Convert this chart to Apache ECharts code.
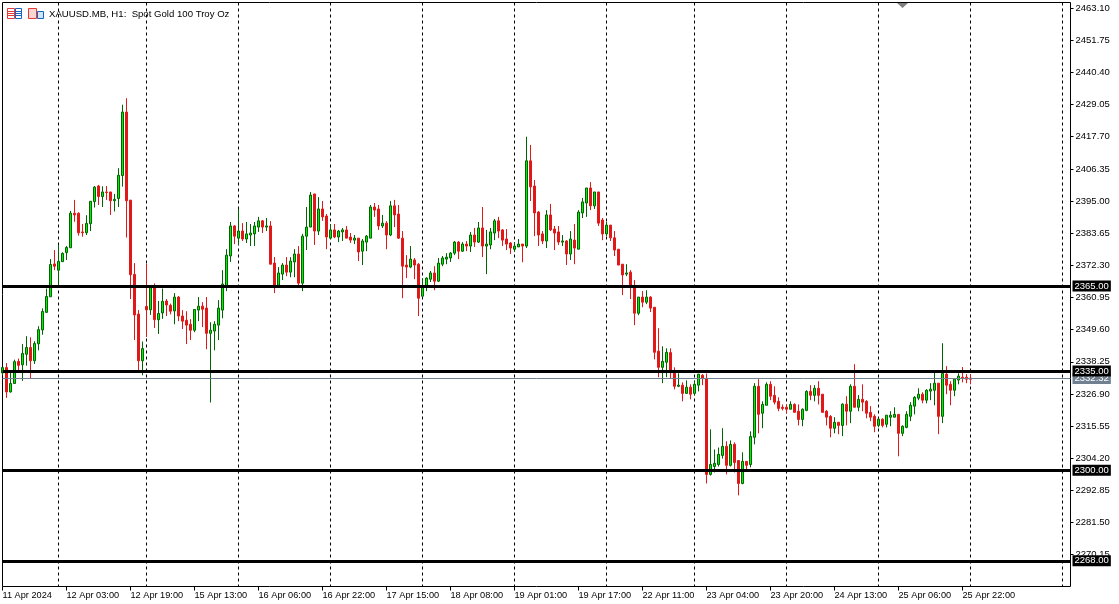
<!DOCTYPE html>
<html>
<head>
<meta charset="utf-8">
<style>html,body{margin:0;padding:0;background:#fff}#c{width:1119px;height:604px}</style>
<script src="https://cdn.jsdelivr.net/npm/echarts@6/dist/echarts.min.js"></script>
</head>
<body>
<div id="c"></div>
<script>
const opens = [
2334.3,2336.2,2327.6,2330.6,2338.4,2337.2,2340.9,2343.3,2338.6,2344.6,
2349.5,2355.7,2361.2,2372.8,2370.6,2373.6,2376.8,2378.5,2390.7,2390.7,
2384.1,2383.8,2387.0,2394.8,2400.3,2396.6,2398.2,2398.2,2395.1,2395.9,
2404.0,2426.4,2395.3,2369.1,2355.1,2338.6,2357.8,2356.6,2364.5,2353.1,
2355.5,2359.7,2358.2,2356.2,2361.1,2354.4,2352.9,2351.5,2349.4,2356.5,
2357.9,2357.2,2348.3,2349.1,2351.2,2356.5,2365.0,2375.6,2386.2,2381.9,
2384.4,2381.6,2383.0,2383.4,2385.8,2388.0,2385.8,2386.2,2373.1,2365.3,
2369.2,2372.4,2369.9,2373.5,2376.3,2366.0,2382.6,2385.8,2397.5,2384.4,
2392.2,2389.7,2381.9,2384.8,2382.3,2384.1,2384.8,2382.3,2381.2,2381.9,
2377.3,2380.5,2381.9,2392.9,2392.2,2386.2,2387.2,2383.0,2393.3,2390.4,
2381.9,2372.4,2371.7,2374.2,2372.7,2361.4,2364.9,2367.4,2369.6,2366.7,
2372.7,2374.5,2374.9,2376.6,2380.5,2377.3,2379.8,2379.1,2383.0,2380.5,
2385.5,2379.1,2379.5,2383.7,2388.0,2384.8,2381.6,2380.2,2378.0,2378.8,
2379.8,2379.1,2409.2,2400.3,2391.1,2383.4,2380.9,2390.1,2385.1,2384.1,
2380.5,2380.9,2376.3,2381.2,2378.0,2390.8,2394.3,2399.6,2393.3,2398.2,
2388.3,2383.4,2386.5,2382.0,2378.0,2372.7,2369.2,2369.9,2365.0,2355.4,
2361.1,2359.3,2361.1,2357.5,2342.0,2336.3,2338.1,2341.5,2334.2,2329.6,
2330.0,2327.1,2329.3,2327.1,2330.0,2333.5,2332.4,2298.5,2301.3,2302.0,
2305.2,2308.4,2301.7,2309.1,2303.4,2295.3,2303.1,2302.0,2311.6,2329.6,
2320.1,2322.9,2330.3,2326.4,2324.3,2322.2,2322.2,2321.5,2323.2,2320.8,
2317.9,2321.1,2327.8,2326.4,2328.9,2326.8,2320.8,2319.0,2314.8,2316.9,
2315.8,2323.3,2320.8,2329.6,2322.2,2325.0,2324.3,2320.4,2319.0,2315.8,
2318.0,2316.2,2318.7,2318.7,2319.7,2313.0,2315.1,2319.0,2322.6,2325.4,
2326.8,2324.7,2327.9,2328.2,2330.7,2319.0,2333.9,2330.3,2328.2,2331.8,
2332.8,2332.8,2332.5];
const closes = [
2336.2,2327.6,2330.6,2338.3,2337.0,2341.2,2343.3,2338.6,2344.7,2349.6,
2356.0,2361.3,2372.6,2372.0,2373.7,2376.5,2378.6,2390.7,2390.1,2383.8,
2383.8,2387.1,2394.9,2399.9,2396.6,2398.2,2398.0,2395.1,2395.6,2404.1,
2426.4,2395.1,2369.0,2354.8,2338.6,2342.9,2356.6,2364.5,2353.1,2355.3,
2359.6,2358.3,2356.1,2361.1,2354.4,2352.6,2351.2,2349.4,2356.7,2357.9,
2356.8,2348.3,2349.4,2351.5,2357.2,2365.7,2375.9,2386.2,2382.6,2384.4,
2381.6,2383.4,2383.7,2386.2,2388.0,2385.8,2386.2,2372.7,2365.3,2369.6,
2372.4,2369.9,2373.8,2376.3,2366.0,2382.6,2385.8,2397.1,2384.4,2392.2,
2389.4,2382.3,2384.8,2382.3,2384.4,2384.8,2381.9,2381.2,2381.9,2377.0,
2380.9,2382.6,2392.9,2391.8,2386.2,2387.2,2383.0,2393.3,2390.1,2381.9,
2372.0,2371.7,2374.5,2372.4,2360.7,2364.6,2367.8,2369.6,2366.7,2373.1,
2374.9,2375.2,2376.6,2380.5,2377.3,2379.8,2379.1,2383.0,2380.5,2385.5,
2379.1,2379.8,2384.1,2388.0,2384.4,2381.2,2379.8,2378.4,2379.1,2379.8,
2379.1,2409.2,2400.0,2390.8,2383.0,2380.9,2390.1,2384.8,2383.7,2380.5,
2380.9,2376.3,2381.6,2378.4,2391.1,2394.7,2399.6,2393.3,2398.2,2387.2,
2383.4,2386.5,2382.0,2377.7,2372.4,2368.9,2369.6,2365.0,2355.4,2361.1,
2359.3,2361.1,2357.2,2341.6,2336.3,2338.4,2341.6,2335.3,2329.6,2330.0,
2327.1,2329.3,2326.8,2330.3,2333.9,2332.4,2298.5,2302.0,2302.4,2305.6,
2308.4,2301.7,2309.1,2302.7,2295.3,2303.1,2301.7,2311.9,2329.6,2319.7,
2323.2,2330.3,2326.1,2324.0,2321.8,2321.8,2321.5,2323.2,2320.4,2317.9,
2321.5,2327.8,2326.4,2328.9,2326.4,2320.4,2318.7,2314.8,2316.9,2315.8,
2323.3,2320.8,2329.6,2322.2,2325.0,2324.0,2320.1,2318.7,2315.5,2318.0,
2315.8,2319.4,2319.4,2319.7,2313.0,2315.5,2319.7,2322.9,2325.7,2326.8,
2324.7,2328.2,2328.6,2330.7,2319.0,2334.2,2330.0,2328.2,2332.1,2333.2,
2332.5,2332.1,2332.1];
const lows = [
2333.5,2325.5,2327.4,2330.6,2334.7,2331.5,2336.9,2332.3,2337.5,2342.3,
2347.8,2355.5,2361.2,2370.6,2365.3,2373.5,2374.2,2378.5,2387.7,2382.8,
2382.4,2383.0,2384.4,2392.7,2393.6,2392.9,2395.4,2390.1,2391.3,2392.9,
2400.1,2382.1,2360.4,2345.9,2334.7,2333.5,2347.0,2354.8,2350.2,2348.1,
2353.4,2354.4,2355.0,2351.5,2352.6,2349.8,2344.5,2345.9,2348.7,2352.6,
2350.5,2342.7,2323.9,2342.3,2345.9,2353.6,2363.2,2373.5,2379.8,2379.5,
2380.9,2380.2,2379.1,2379.1,2384.1,2383.7,2384.4,2372.7,2362.5,2365.3,
2367.1,2368.5,2368.1,2368.1,2365.0,2363.2,2377.7,2385.8,2379.5,2383.0,
2388.0,2378.0,2381.6,2381.9,2380.5,2380.9,2381.9,2380.2,2379.8,2373.8,
2372.4,2377.3,2381.9,2389.4,2384.8,2385.5,2378.0,2382.6,2385.8,2381.6,
2360.7,2367.8,2371.3,2367.4,2354.4,2361.4,2363.2,2366.4,2363.5,2366.4,
2372.0,2372.7,2373.5,2375.9,2374.5,2377.0,2377.3,2377.0,2378.8,2380.2,
2375.2,2369.2,2378.0,2381.2,2381.9,2379.1,2377.7,2376.3,2377.0,2378.8,
2373.4,2378.4,2395.0,2382.6,2379.1,2379.8,2378.4,2384.4,2377.7,2379.5,
2379.1,2372.4,2374.2,2372.7,2378.0,2389.0,2389.4,2391.8,2392.2,2386.2,
2381.2,2382.6,2380.9,2375.6,2372.4,2361.8,2368.5,2360.4,2351.2,2354.7,
2357.5,2358.6,2355.8,2339.1,2332.8,2330.7,2332.8,2332.4,2328.5,2329.3,
2324.3,2327.1,2325.0,2326.4,2327.8,2330.0,2295.3,2298.1,2299.2,2301.3,
2304.1,2298.5,2301.3,2299.2,2291.1,2295.0,2300.3,2301.0,2309.1,2313.0,
2314.8,2322.9,2324.7,2323.2,2320.8,2321.1,2320.1,2321.5,2320.4,2315.8,
2315.5,2320.8,2324.7,2324.3,2323.2,2320.4,2315.8,2311.6,2313.0,2312.7,
2312.0,2315.8,2316.6,2322.2,2320.8,2320.8,2318.3,2317.3,2313.4,2315.1,
2315.1,2315.1,2315.5,2318.7,2304.9,2312.0,2314.8,2317.3,2319.7,2324.7,
2323.6,2323.6,2324.7,2322.9,2312.7,2316.6,2326.8,2322.9,2326.1,2330.3,
2331.0,2330.7,2330.3];
const highs = [
2336.4,2337.8,2335.3,2339.0,2339.4,2344.5,2347.3,2346.9,2345.5,2350.8,
2357.1,2364.1,2374.5,2377.7,2379.5,2376.9,2379.1,2391.5,2395.4,2391.0,
2386.9,2390.0,2395.0,2400.3,2400.7,2400.2,2400.3,2398.2,2397.5,2406.6,
2429.0,2431.3,2395.4,2373.1,2356.5,2345.4,2372.8,2365.3,2365.9,2359.7,
2364.1,2360.4,2358.8,2362.5,2361.5,2356.5,2356.1,2353.3,2356.8,2361.1,
2359.3,2361.1,2352.2,2352.6,2360.0,2370.6,2378.0,2387.6,2386.5,2392.2,
2387.2,2387.6,2386.9,2387.6,2389.4,2388.3,2389.0,2387.9,2375.2,2371.7,
2373.1,2375.2,2375.2,2378.0,2379.1,2383.4,2392.9,2398.2,2397.5,2396.4,
2395.0,2390.4,2386.9,2386.9,2384.8,2385.5,2386.2,2383.7,2383.0,2381.9,
2381.6,2383.0,2393.6,2394.3,2393.6,2390.1,2387.9,2395.0,2395.4,2393.6,
2384.4,2375.9,2379.1,2374.9,2373.1,2367.8,2368.1,2370.3,2372.0,2374.9,
2375.6,2376.6,2377.0,2380.9,2380.9,2380.5,2380.9,2384.1,2385.5,2387.6,
2392.9,2384.8,2385.5,2388.7,2389.4,2385.1,2385.1,2380.5,2380.5,2381.6,
2379.8,2417.7,2414.8,2402.4,2391.5,2384.4,2391.8,2394.0,2386.2,2386.2,
2383.0,2381.2,2384.4,2386.9,2391.8,2396.1,2399.6,2401.7,2398.2,2398.2,
2389.0,2387.6,2386.5,2384.4,2378.0,2372.7,2372.7,2370.6,2367.1,2361.1,
2363.2,2363.5,2361.4,2357.5,2350.1,2343.7,2343.0,2343.0,2336.3,2334.2,
2331.0,2331.7,2330.3,2331.7,2333.9,2333.9,2334.1,2314.4,2307.3,2308.0,
2314.8,2310.2,2310.5,2309.8,2303.4,2306.3,2303.1,2313.7,2330.7,2332.1,
2324.3,2331.0,2331.4,2329.6,2325.7,2323.2,2323.2,2324.3,2323.6,2323.2,
2321.8,2328.2,2330.0,2330.0,2331.4,2326.8,2321.2,2319.4,2318.7,2316.9,
2323.6,2326.1,2330.3,2337.4,2326.5,2330.3,2324.7,2322.6,2319.7,2318.3,
2318.3,2319.4,2320.8,2322.2,2319.7,2315.8,2320.8,2324.0,2326.1,2328.9,
2327.5,2328.6,2330.7,2334.6,2330.7,2344.8,2336.7,2331.4,2332.1,2334.2,
2336.4,2333.9,2333.9];
const timeLabels = ['11 Apr 2024','12 Apr 03:00','12 Apr 19:00','15 Apr 13:00','16 Apr 06:00','16 Apr 22:00','17 Apr 15:00','18 Apr 08:00','19 Apr 01:00','19 Apr 17:00','22 Apr 11:00','23 Apr 04:00','23 Apr 20:00','24 Apr 13:00','25 Apr 06:00','25 Apr 22:00'];
const priceTicks = [2463.10,2451.75,2440.40,2429.05,2417.70,2406.35,2395.00,2383.65,2372.30,2360.95,2349.60,2338.25,2326.90,2315.55,2304.20,2292.85,2281.50,2270.15];
const separatorBars = [14,36,59,82,105,128,151,173,196,219,242,265];
const levels = [2365.00,2335.00,2300.00,2268.00];
const bidPrice = 2332.32;
const barSlots = 268;
const barsPerLabel = 16;
const priceMin = 2258.93;
const priceMax = 2465.08;

const FONT = '"Liberation Sans", Arial, sans-serif';
const categories = Array.from({length: barSlots}, (_, i) => String(i));
const candleData = opens.map((o, i) => [o, closes[i], lows[i], highs[i]]);
const isLabelBar = i => i % barsPerLabel === 0 && i / barsPerLabel < timeLabels.length;

function priceLabel(v, bg) {
  return {
    show: true, position: 'end', distance: 2, formatter: v.toFixed(2),
    color: '#fff', backgroundColor: bg, fontFamily: FONT, fontSize: 9.5,
    padding: [1, 2, 0, 2], lineHeight: 10
  };
}

const chart = echarts.init(document.getElementById('c'), null, {renderer: 'canvas'});
chart.setOption({
  animation: false,
  backgroundColor: '#fff',
  title: {
    text: 'XAUUSD.MB, H1:  Spot Gold 100 Troy Oz', left: 44, top: 4,
    textStyle: {fontFamily: FONT, fontSize: 9.6, fontWeight: 'normal', color: '#000'}
  },
  grid: {left: 2.5, right: 48.5, top: 2.5, bottom: 17.5, show: true, borderColor: '#000', borderWidth: 1, backgroundColor: '#fff', outerBoundsMode: 'none'},
  xAxis: {
    type: 'category', data: categories, boundaryGap: false,
    axisLine: {show: false},
    axisTick: {show: true, length: 4, lineStyle: {color: '#000'}, interval: isLabelBar},
    axisLabel: {
      color: '#000', fontFamily: FONT, fontSize: 9.2, align: 'left', margin: 4,
      interval: isLabelBar,
      formatter: (v, i) => timeLabels[i / barsPerLabel] || ''
    },
    splitLine: {show: true, interval: i => separatorBars.includes(i), lineStyle: {color: '#000', type: [3, 3], width: 1}}
  },
  yAxis: {
    type: 'value', position: 'right', min: priceMin, max: priceMax,
    axisLine: {show: false}, splitLine: {show: false},
    axisTick: {show: true, length: 3, lineStyle: {color: '#000'}, customValues: priceTicks},
    axisLabel: {color: '#000', fontFamily: FONT, fontSize: 9.5, margin: 5, padding: [2, 0, 0, 0], customValues: priceTicks, formatter: v => v.toFixed(2)}
  },
  series: [{
    type: 'candlestick', data: candleData, barWidth: 2,
    itemStyle: {color: '#00f000', color0: '#e01818', borderColor: '#006400', borderColor0: '#e01818', borderWidth: 1},
    markLine: {
      silent: true, symbol: 'none', animation: false,
      data: [
        {yAxis: bidPrice, lineStyle: {color: '#708090', width: 1, type: 'solid'}, label: priceLabel(bidPrice, '#708090')},
        ...levels.map(v => ({yAxis: v, lineStyle: {color: '#000', width: 3, type: 'solid'}, label: priceLabel(v, '#000')}))
      ]
    }
  }],
  graphic: [
    {type: 'rect', shape: {x: 7.5, y: 8.5, width: 7, height: 10}, style: {fill: '#fff', stroke: '#e53935', lineWidth: 1}},
    {type: 'line', shape: {x1: 8, y1: 11.5, x2: 14, y2: 11.5}, style: {stroke: '#e53935'}},
    {type: 'line', shape: {x1: 8, y1: 13.5, x2: 14, y2: 13.5}, style: {stroke: '#e53935'}},
    {type: 'line', shape: {x1: 8, y1: 15.5, x2: 14, y2: 15.5}, style: {stroke: '#e53935'}},
    {type: 'rect', shape: {x: 15.5, y: 8.5, width: 6, height: 10}, style: {fill: '#fff', stroke: '#1565c0', lineWidth: 1}},
    {type: 'line', shape: {x1: 16, y1: 11.5, x2: 21, y2: 11.5}, style: {stroke: '#1565c0'}},
    {type: 'line', shape: {x1: 16, y1: 13.5, x2: 21, y2: 13.5}, style: {stroke: '#1565c0'}},
    {type: 'line', shape: {x1: 16, y1: 15.5, x2: 21, y2: 15.5}, style: {stroke: '#1565c0'}},
    {type: 'rect', shape: {x: 28.5, y: 8.5, width: 8, height: 10}, style: {fill: '#fbd5d0', stroke: '#e53935', lineWidth: 1}},
    {type: 'rect', shape: {x: 37.5, y: 11.5, width: 6, height: 7}, style: {fill: '#cfe4f7', stroke: '#1565c0', lineWidth: 1}},
    {type: 'polygon', shape: {points: [[897, 3], [908, 3], [902.5, 8]]}, style: {fill: '#808080'}}
  ]
});
</script>
</body>
</html>
